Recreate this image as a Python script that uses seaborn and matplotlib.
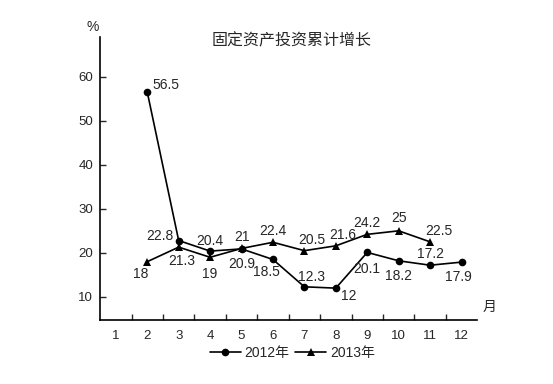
import numpy as np
import pandas as pd
import matplotlib
matplotlib.use("Agg")
import matplotlib.pyplot as plt
import seaborn as sns

# ── Data ───────────────────────────────────────────────────────
months_2012 = [2, 3, 4, 5, 6, 7, 8, 9, 10, 11, 12]
values_2012 = [56.5, 22.8, 20.4, 20.9, 18.5, 12.3, 12, 20.1, 18.2, 17.2, 17.9]
labels_2012 = ["56.5", "22.8", "20.4", "20.9", "18.5", "12.3", "12", "20.1", "18.2", "17.2", "17.9"]

months_2013 = [2, 3, 4, 5, 6, 7, 8, 9, 10, 11]
values_2013 = [18, 21.3, 19, 21, 22.4, 20.5, 21.6, 24.2, 25, 22.5]
labels_2013 = ["18", "21.3", "19", "21", "22.4", "20.5", "21.6", "24.2", "25", "22.5"]

month_ticks = list(range(1, 13))
y_ticks = [10, 20, 30, 40, 50, 60]
title = "固定资产投资累计增长"

# label offsets in points (dx, dy, ha)
off_2012 = [(4, 5, "left"), (-4, 3, "right"), (0, 7, "center"), (0, -11, "center"),
            (-5, -9, "center"), (5, 7, "center"), (4, -6, "left"), (0, -12, "center"),
            (0, -11, "center"), (0, 8, "center"), (-2, -11, "center")]
off_2013 = [(-5, -9, "center"), (2, -10, "center"), (0, -12, "center"), (0, 8, "center"),
            (0, 8, "center"), (5, 8, "center"), (5, 8, "center"), (0, 8, "center"),
            (0, 9, "center"), (6, 8, "center")]

# ── Style ──────────────────────────────────────────────────────
sns.set_style("white")
plt.rcParams["font.family"] = ["Liberation Sans", "Noto Sans CJK SC"]

fig = plt.figure(figsize=(5.53, 3.84), dpi=100)
ax = fig.add_axes([0.181, 0.167, 0.682, 0.737])

df12 = pd.DataFrame({"month": months_2012, "value": values_2012})
df13 = pd.DataFrame({"month": months_2013, "value": values_2013})

sns.lineplot(data=df12, x="month", y="value", ax=ax, color="black", lw=1.2,
             marker="o", markersize=5.5, markeredgewidth=0, label="2012年")
sns.lineplot(data=df13, x="month", y="value", ax=ax, color="black", lw=1.2,
             marker="^", markersize=6, markeredgewidth=0, label="2013年")

for m, v, t, (dx, dy, ha) in zip(months_2012, values_2012, labels_2012, off_2012):
    ax.annotate(t, (m, v), xytext=(dx, dy), textcoords="offset points",
                ha=ha, va="center", fontsize=10)
for m, v, t, (dx, dy, ha) in zip(months_2013, values_2013, labels_2013, off_2013):
    ax.annotate(t, (m, v), xytext=(dx, dy), textcoords="offset points",
                ha=ha, va="center", fontsize=10)

# ── Axes ───────────────────────────────────────────────────────
ax.set_xlim(0.5, 12.5)
ax.set_ylim(4.8, 69)
ax.set_xticks(month_ticks)
ax.set_xticklabels([str(m) for m in month_ticks], fontsize=9.5)
ax.set_xticks(np.arange(1.5, 12.5, 1), minor=True)
ax.tick_params(axis="x", which="major", length=0, pad=7)
ax.tick_params(axis="x", which="minor", direction="in", length=4, width=1, bottom=True)
ax.set_yticks(y_ticks)
ax.set_yticklabels([str(v) for v in y_ticks], fontsize=9.5)
ax.tick_params(axis="y", direction="in", length=4, width=1, left=True, pad=5)
ax.set_xlabel("")
ax.set_ylabel("")

for s in ["top", "right"]:
    ax.spines[s].set_visible(False)
for s in ["left", "bottom"]:
    ax.spines[s].set_color("black")
    ax.spines[s].set_linewidth(1.2)

ax.text(-0.02, 1.01, "%", transform=ax.transAxes, fontsize=10, ha="center", va="bottom")
ax.text(1.015, 0.02, "月", transform=ax.transAxes, fontsize=10, ha="left", va="bottom")
fig.text(0.527, 0.895, title, fontsize=11.5, ha="center", va="center")

ax.legend(loc="center", bbox_to_anchor=(0.51, -0.117), ncol=2, frameon=False,
          fontsize=10, handlelength=2.2, columnspacing=0.4, handletextpad=0.3)

fig.savefig("out.png", dpi=100)
